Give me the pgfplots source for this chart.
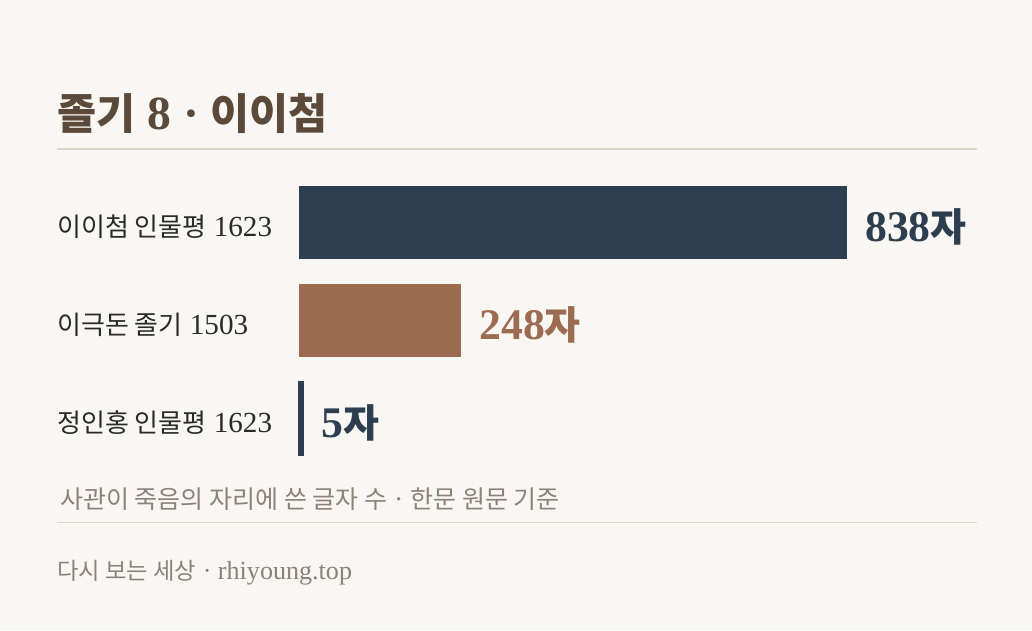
\documentclass[border=0pt]{standalone}
\usepackage{pgfplots}
\pgfplotsset{compat=1.18}
\usepackage{fontspec}
\setmainfont{Liberation Serif}[Scale=1.12]
\newfontfamily\kr{Noto Sans CJK KR}
\definecolor{bg}{HTML}{F9F7F3}
\definecolor{navy}{HTML}{2C3E50}
\definecolor{brown}{HTML}{9C6B50}
\definecolor{titlec}{HTML}{5B4A3A}
\definecolor{rulec}{HTML}{DDD8C8}
\definecolor{labelc}{HTML}{2A2A2A}
\definecolor{subc}{HTML}{8C8279}
\begin{document}
\begin{tikzpicture}[x=1pt,y=1pt]
\fill[bg] (0,-630) rectangle (1032,0);
\useasboundingbox (0,-630) rectangle (1032,0);
% title
\node[anchor=base west,inner sep=0pt,text=titlec,font=\fontsize{42.5}{46}\selectfont\bfseries] at (57,-129) {{\kr 졸기} 8 · {\kr 이이첨}};
\draw[rulec,line width=1.6pt] (57,-149) -- (977,-149);
% row labels
\begin{scope}[every node/.style={anchor=base west,inner sep=0pt,text=labelc,font=\fontsize{26}{30}\selectfont}]
\node at (57,-236) {{\kr 이이첨 인물평} 1623};
\node at (57,-334) {{\kr 이극돈 졸기} 1503};
\node at (57,-432) {{\kr 정인홍 인물평} 1623};
\end{scope}
\begin{axis}[
  at={(299pt,-173.5pt)}, anchor=north west,
  scale only axis, width=548pt, height=294pt,
  xmin=0, xmax=838, ymin=0.5, ymax=3.5, y dir=reverse,
  hide axis, clip=false,
  xbar, bar width=73pt, bar shift=0pt,
  /pgf/number format/assume math mode=true,
  nodes near coords={\pgfmathprintnumber{\pgfplotspointmeta}{\kr 자}},
  point meta=explicit,
  every node near coord/.append style={anchor=base west, inner sep=0pt, xshift=18pt, yshift=-19pt, font=\fontsize{39}{42}\selectfont\bfseries},
]
\addplot[fill=navy, draw=none, nodes near coords style={text=navy}] coordinates {(838,1) [838]};
\addplot[fill=brown, draw=none, nodes near coords style={text=brown}] coordinates {(248,2) [248]};
\addplot[fill=navy, draw=navy, line width=2.5pt, nodes near coords style={text=navy}] coordinates {(5,3) [5]};
\end{axis}
% subtitle & footer
\node[anchor=base west,inner sep=0pt,text=subc,font=\fontsize{25}{29}\selectfont] at (60,-508) {{\kr 사관이 죽음의 자리에 쓴 글자 수} · {\kr 한문 원문 기준}};
\draw[rulec,line width=0.9pt] (57,-522) -- (977,-522);
\node[anchor=base west,inner sep=0pt,text=subc,font=\fontsize{23.3}{27}\selectfont] at (57,-579) {{\kr 다시 보는 세상} · rhiyoung.top};
\end{tikzpicture}
\end{document}
